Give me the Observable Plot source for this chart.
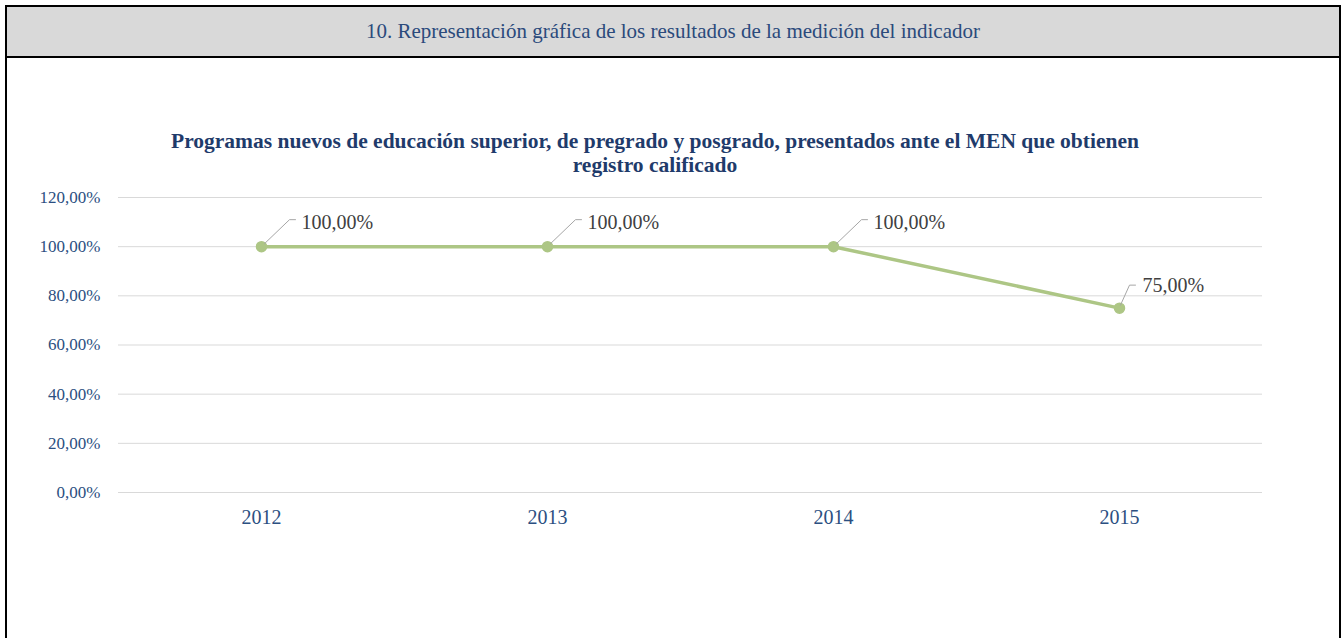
<!DOCTYPE html>
<html>
<head>
<meta charset="utf-8">
<script src="https://cdn.jsdelivr.net/npm/d3@7"></script>
<script src="https://cdn.jsdelivr.net/npm/@observablehq/plot@0.6"></script>
<style>
  html, body { margin: 0; padding: 0; background: #fff; }
  body { width: 1342px; height: 638px; position: relative; overflow: hidden; font-family: "Liberation Serif", "Times New Roman", serif; }
  #header { position: absolute; left: 5px; top: 5px; width: 1332px; height: 49px; background: #d9d9d9; border: 2px solid #000; display: flex; align-items: center; justify-content: center; color: #2b4a7c; font-size: 21px; }
  #box { position: absolute; left: 5px; top: 58px; width: 1332px; height: 600px; border-left: 2px solid #000; border-right: 2px solid #000; }
  #title { position: absolute; left: 0; width: 1310px; top: 129px; text-align: center; font-weight: bold; font-size: 21.5px; line-height: 24px; color: #1f3b6b; }
  #chart { position: absolute; left: 0; top: 0; }
</style>
</head>
<body>
<div id="header">10. Representación gráfica de los resultados de la medición del indicador</div>
<div id="box"></div>
<div id="chart"></div>
<div id="title">Programas nuevos de educación superior, de pregrado y posgrado, presentados ante el MEN que obtienen<br>registro calificado</div>
<script>
const years = ["2012", "2013", "2014", "2015"];
const values = [1.00, 1.00, 1.00, 0.75];
const yTicks = [0, 0.2, 0.4, 0.6, 0.8, 1.0, 1.2];

const data = years.map((y, i) => ({year: y, value: values[i]}));
const fmt = v => (v * 100).toFixed(2).replace(".", ",") + "%";
const lineColor = "#adc685";

const leaderLong = {draw(ctx) { ctx.moveTo(3, -3); ctx.lineTo(28, -27); ctx.lineTo(34, -27); }};
const leaderShort = {draw(ctx) { ctx.moveTo(1, -3); ctx.lineTo(10, -23); ctx.lineTo(16, -23); }};

const chart = Plot.plot({
  width: 1342,
  height: 638,
  marginLeft: 118,
  marginRight: 80,
  marginTop: 197,
  marginBottom: 146,
  style: {fontFamily: "Liberation Serif, serif", background: "transparent", overflow: "visible"},
  x: {type: "point", domain: years, padding: 0.5, label: null},
  y: {domain: [0, 1.2], label: null},
  marks: [
    Plot.ruleY(yTicks, {stroke: "#d9d9d9", strokeWidth: 1}),
    Plot.axisY({ticks: yTicks, tickFormat: fmt, tickSize: 0, tickPadding: 18, fontSize: 17, fill: "#2b4f81", label: null}),
    Plot.axisX({tickSize: 0, tickPadding: 17, fontSize: 20, fill: "#2b4f81", label: null}),
    Plot.line(data, {x: "year", y: "value", stroke: lineColor, strokeWidth: 3.5}),
    Plot.dot(data, {x: "year", y: "value", r: 5, fill: lineColor, stroke: lineColor}),
    Plot.vector(data.filter(d => d.value >= 1), {x: "year", y: "value", anchor: "start", shape: leaderLong, stroke: "#a6a6a6", strokeWidth: 1}),
    Plot.vector(data.filter(d => d.value < 1), {x: "year", y: "value", anchor: "start", shape: leaderShort, stroke: "#a6a6a6", strokeWidth: 1}),
    Plot.text(data.filter(d => d.value >= 1), {x: "year", y: "value", text: d => fmt(d.value), dx: 40, dy: -24, textAnchor: "start", fontSize: 20, fill: "#404040"}),
    Plot.text(data.filter(d => d.value < 1), {x: "year", y: "value", text: d => fmt(d.value), dx: 23, dy: -23, textAnchor: "start", fontSize: 20, fill: "#404040"})
  ]
});
document.getElementById("chart").appendChild(chart);
</script>
</body>
</html>
